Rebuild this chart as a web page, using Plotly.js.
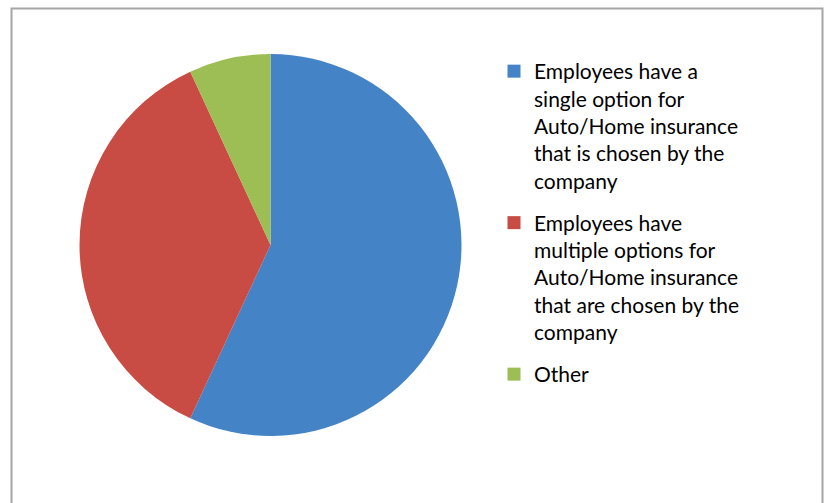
<!DOCTYPE html>
<html>
<head>
<meta charset="utf-8">
<script src="https://cdn.plot.ly/plotly-3.0.1.min.js"></script>
<style>html,body{margin:0;padding:0;background:#fff;} #chart{width:824px;height:503px;}</style>
</head>
<body>
<div id="chart"></div>
<script>
const categories = [
  "Employees have a<br>single option for<br>Auto/Home insurance<br>that is chosen by the<br>company",
  "Employees have<br>multiple options for<br>Auto/Home insurance<br>that are chosen by the<br>company",
  "Other"
];
const values = [33, 21, 4];
const colors = ["#4383c6", "#c84b44", "#9dbd55"];

const W = 824, H = 503;
const cx = 270.5, cy = 245, r = 191;
const FONT = "Lato, 'Open Sans', sans-serif";

const pie = {
  type: "pie",
  labels: categories,
  values: values,
  sort: false,
  direction: "clockwise",
  rotation: 0,
  textinfo: "none",
  hoverinfo: "none",
  showlegend: false,
  marker: {colors: colors, line: {width: 0}},
  domain: {x: [(cx - r) / W, (cx + r) / W], y: [1 - (cy + r) / H, 1 - (cy - r) / H]}
};

// legend entries (one per category, so that the gap between entries can be set)
const legendTraces = categories.map((c, i) => ({
  type: "scatter", mode: "markers",
  x: [null], y: [null],
  name: c, legendgroup: "g" + i,
  marker: {symbol: "square", size: 13, color: colors[i]},
  hoverinfo: "none"
}));

const layout = {
  width: W, height: H,
  margin: {l: 0, r: 0, t: 0, b: 0},
  paper_bgcolor: "#ffffff",
  plot_bgcolor: "rgba(0,0,0,0)",
  xaxis: {visible: false, range: [0, 1]},
  yaxis: {visible: false, range: [0, 1]},
  font: {family: FONT, size: 21, color: "#000000"},
  showlegend: true,
  legend: {
    x: 494 / W, y: 1 - 51 / H, xanchor: "left", yanchor: "top",
    bgcolor: "rgba(0,0,0,0)",
    font: {family: FONT, size: 21, color: "#000000"},
    valign: "top",
    traceorder: "grouped",
    tracegroupgap: 12,
    itemwidth: 30
  },
  shapes: [{
    type: "rect", xref: "paper", yref: "paper",
    x0: 11.5 / W, x1: 822.5 / W, y0: -0.1, y1: 1 - 8.5 / H,
    line: {color: "#a6a6a6", width: 2}, fillcolor: "rgba(0,0,0,0)"
  }]
};

Plotly.newPlot("chart", [pie].concat(legendTraces), layout, {displayModeBar: false, staticPlot: true});
</script>
</body>
</html>
